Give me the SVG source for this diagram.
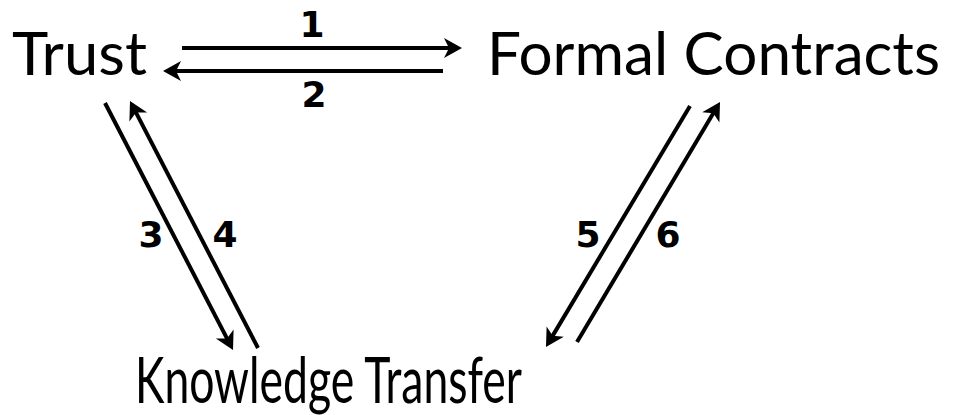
<svg xmlns="http://www.w3.org/2000/svg" width="955" height="415" viewBox="0 0 955 415">
  <defs>
    <marker id="ah" viewBox="-10 -12 22 24" markerWidth="22" markerHeight="24" refX="0" refY="0" orient="auto" markerUnits="userSpaceOnUse">
      <path d="M10,0 L-8,-10 L-3,0 L-8,10 Z" fill="#000"/>
    </marker>
    <style>
      .node { font-family: Lato, "Open Sans", "Liberation Sans", sans-serif; font-size: 60px; fill: #000; }
      .num { font-family: "DejaVu Sans", Verdana, sans-serif; font-weight: bold; font-size: 36px; fill: #000; text-anchor: middle; }
      .conn line { stroke: #000; stroke-width: 4; marker-end: url(#ah); }
    </style>
  </defs>
  <rect width="955" height="415" fill="#fff"/>
  <g id="trust">
    <text class="node" x="12" y="75" textLength="135" lengthAdjust="spacingAndGlyphs">Trust</text>
  </g>
  <g id="formal-contracts">
    <text class="node" x="487" y="75" textLength="453" lengthAdjust="spacingAndGlyphs">Formal Contracts</text>
  </g>
  <g id="knowledge-transfer">
    <text class="node" x="135" y="403" style="font-size:63px" textLength="387" lengthAdjust="spacingAndGlyphs">Knowledge Transfer</text>
  </g>
  <g id="connectors" class="conn">
    <line x1="182" y1="48" x2="452" y2="48"/>
    <line x1="443" y1="71" x2="173" y2="71"/>
    <line x1="105" y1="103" x2="228.4" y2="341.1"/>
    <line x1="258" y1="348" x2="134.6" y2="109.9"/>
    <line x1="690" y1="106" x2="551.1" y2="338.4"/>
    <line x1="577" y1="342" x2="714.9" y2="110.6"/>
    <text class="num" x="312" y="37">1</text>
    <text class="num" x="314" y="107">2</text>
    <text class="num" x="151" y="247">3</text>
    <text class="num" x="225" y="247">4</text>
    <text class="num" x="588" y="247">5</text>
    <text class="num" x="668" y="247">6</text>
  </g>
</svg>
